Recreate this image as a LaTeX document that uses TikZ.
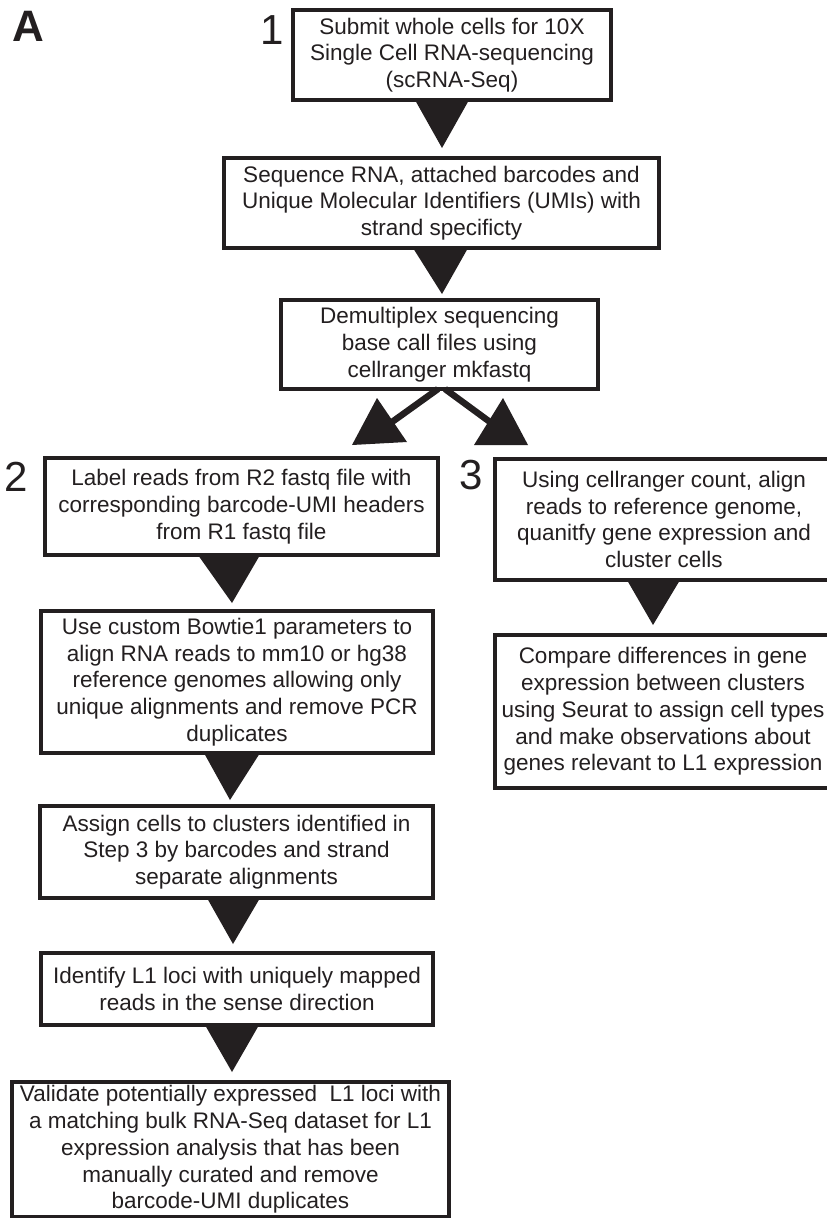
\documentclass[tikz,border=0pt]{standalone}
\usepackage{fontspec}
\setmainfont{Liberation Sans}
\usepackage{tikz}
\usetikzlibrary{arrows.meta,positioning,calc}
\definecolor{ink}{HTML}{231F20}
\newcommand{\boxfont}{\fontsize{22.5}{26.7}\selectfont}
\newcommand{\numfont}{\fontsize{42}{42}\selectfont}

\begin{document}
\begin{tikzpicture}[
    x=1pt, y=-1pt,
    box/.style={rectangle,draw=ink,line width=3.5pt,fill=white,align=center,text=ink,font=\boxfont,inner sep=0pt,outer sep=0pt},
    stepnum/.style={text=ink,font=\numfont,inner sep=0pt},
    wedge/.style={fill=ink},
    split/.style={draw=ink,line width=6.5pt},
    >=Latex]
    \useasboundingbox (0,0) rectangle (827,1218);
    \clip (0,0) rectangle (827,1218);
    % panel letter and step numbers
    \node[text=ink,font=\fontsize{44}{44}\selectfont\bfseries,inner sep=0pt] (panel) at (28,26) {A};
    \node[stepnum] (n1) at (272,30) {1};
    \node[stepnum] (n2) at (16,477) {2};
    \node[stepnum] (n3) at (471,475) {3};
    % common trunk
    \node[box,minimum width=318,minimum height=90] (submit) at (452,55) {Submit whole cells for 10X\\Single Cell RNA-sequencing\\(scRNA-Seq)};
    \node[box,minimum width=435,minimum height=90] (seq) at (441.5,203) {Sequence RNA, attached barcodes and\\Unique Molecular Identifiers (UMIs) with\\strand specificty};
    \node[box,minimum width=317,minimum height=89] (demux) at (439.5,344.5) {Demultiplex sequencing\\base call files using\\cellranger mkfastq};
    % left branch (step 2)
    \node[box,minimum width=393,minimum height=97] (label) at (241.5,506.5) {Label reads from R2 fastq file with\\corresponding barcode-UMI headers\\from R1 fastq file};
    \node[box,minimum width=392,minimum height=142] (bowtie) at (237,682) {Use custom Bowtie1 parameters to\\align RNA reads to mm10 or hg38\\reference genomes allowing only\\unique alignments and remove PCR\\duplicates};
    \node[box,minimum width=393,minimum height=92] (assign) at (236.5,852) {Assign cells to clusters identified in\\Step 3 by barcodes and strand\\separate alignments};
    \node[box,minimum width=392,minimum height=72] (identify) at (237,989) {Identify L1 loci with uniquely mapped\\reads in the sense direction};
    \node[box,minimum width=437,minimum height=135] (validate) at (230.5,1149.5) {Validate potentially expressed\ \ L1 loci with\\a matching bulk RNA-Seq dataset for L1\\expression analysis that has been\\manually curated and remove\\barcode-UMI duplicates};
    % right branch (step 3)
    \node[box,minimum width=338,minimum height=121] (count) at (664,519.5) {Using cellranger count, align\\reads to reference genome,\\quanitfy gene expression and\\cluster cells};
    \node[box,minimum width=336,minimum height=153] (compare) at (663,711.5) {Compare differences in gene\\expression between clusters\\using Seurat to assign cell types\\and make observations about\\genes relevant to L1 expression};
    % downward wedges
    \fill[wedge] ($(submit.south)+(-37,0)$) -- ($(submit.south)+(17,0)$) -- ($(seq.north)+(0.5,-10)$) -- cycle;
    \fill[wedge] ($(seq.south)+(-28.5,0)$) -- ($(seq.south)+(26.5,0)$) -- ($(demux.north)+(2.5,-6)$) -- cycle;
    \fill[wedge] ($(label.south)+(-43.5,0)$) -- ($(label.south)+(18.5,0)$) -- ($(bowtie.north)+(-5,-8)$) -- cycle;
    \fill[wedge] ($(bowtie.south)+(-33,0)$) -- ($(bowtie.south)+(23,0)$) -- ($(assign.north)+(-6.5,-6)$) -- cycle;
    \fill[wedge] ($(assign.south)+(-29.5,0)$) -- ($(assign.south)+(23.5,0)$) -- ($(identify.north)+(-4,-9)$) -- cycle;
    \fill[wedge] ($(identify.south)+(-32,0)$) -- ($(identify.south)+(22,0)$) -- ($(validate.north)+(1.5,-10)$) -- cycle;
    \fill[wedge] ($(count.south)+(-37,0)$) -- ($(count.south)+(16,0)$) -- ($(compare.north)+(-10,-10)$) -- cycle;
    % split into the two branches
    \coordinate (hl) at (392,422);
    \coordinate (hr) at (490,422);
    \draw[split] ([xshift=-1.5pt]demux.south) -- (hl);
    \draw[split] ([xshift=5.5pt]demux.south) -- (hr);
    \fill[wedge] ($(hl)+(-15,-24)$) -- ($(hl)+(-40,23)$) -- ($(hl)+(15,20)$) -- cycle;
    \fill[wedge] ($(hr)+(13,-24)$) -- ($(hr)+(-16,23)$) -- ($(hr)+(38,23)$) -- cycle;
  \end{tikzpicture}
\end{document}
